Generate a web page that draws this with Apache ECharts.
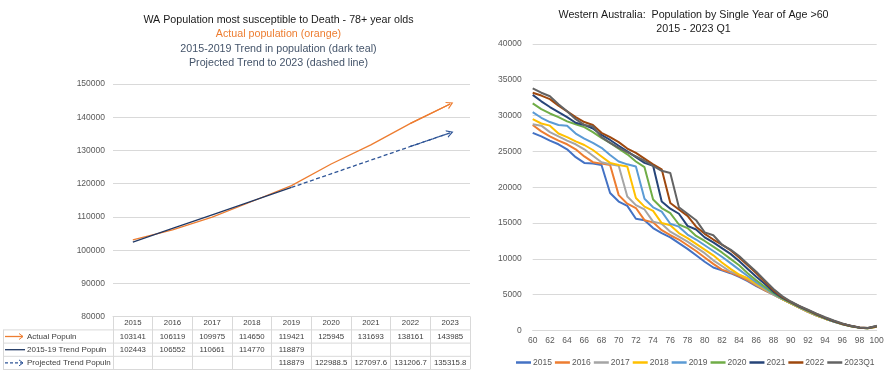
<!DOCTYPE html>
<html><head><meta charset="utf-8">
<script src="https://cdn.jsdelivr.net/npm/echarts@6/dist/echarts.min.js"></script>
<style>html,body{margin:0;padding:0;background:#fff}#c{width:895px;height:382px}</style>
</head><body><div id="c"></div>
<script>
// ---------- LEFT CHART DATA ----------
const years = ['2015','2016','2017','2018','2019','2020','2021','2022','2023'];
const actualPopuln = [103141,106119,109975,114650,119421,125945,131693,138161,143985];
const trendPopuln = [102443,106552,110661,114770,118879,null,null,null,null];
const projectedPopuln = [null,null,null,null,118879,122988.5,127097.6,131206.7,135315.8];
const leftRowNames = ['Actual Populn','2015-19 Trend Populn','Projected Trend Populn'];

// ---------- RIGHT CHART DATA ----------
const ages = ['60','61','62','63','64','65','66','67','68','69','70','71','72','73','74','75','76','77','78','79','80','81','82','83','84','85','86','87','88','89','90','91','92','93','94','95','96','97','98','99','100'];
const seriesNames = ['2015','2016','2017','2018','2019','2020','2021','2022','2023Q1'];
const s2015 = [27600,27100,26500,26000,25300,24200,23400,23300,23100,19200,18000,17400,15600,15400,14300,13600,13000,12200,11400,10500,9600,8800,8400,8000,7500,6900,6200,5600,5000,4400,3800,3200,2600,2100,1650,1250,900,620,400,330,540];
const s2016 = [28700,27800,27100,26500,26000,25300,24300,23500,23300,23100,18900,17700,17100,15400,15100,14000,13300,12700,11900,11100,10200,9300,8500,8100,7600,7000,6300,5600,5000,4400,3800,3200,2600,2100,1650,1250,900,620,400,330,520];
const s2017 = [28800,28600,27700,27100,26500,26000,25300,24400,23500,23200,23000,18700,17500,16900,15200,14900,13800,13100,12400,11600,10800,9800,9000,8200,7800,7200,6400,5700,5000,4400,3800,3200,2650,2100,1650,1250,900,620,400,320,510];
const s2018 = [29500,28900,28600,27500,27000,26400,25900,25200,24300,23400,23100,22900,18500,17300,16700,15000,14700,13600,12900,12100,11300,10500,9500,8600,7800,7300,6500,5800,5100,4400,3800,3200,2650,2100,1650,1250,880,600,390,320,520];
const s2019 = [30500,29700,29100,28700,28600,27500,26800,26200,25500,24500,23600,23200,22900,18400,17200,16600,14900,14500,13400,12700,11900,11100,10300,9400,8500,7600,6700,5900,5100,4450,3850,3250,2700,2150,1700,1250,880,600,390,330,540];
const s2020 = [31700,30900,30300,29800,29200,28800,28400,27700,26900,26200,25400,24600,23600,22800,18300,17100,16400,14800,14300,13200,12500,11700,10900,10000,9100,8000,7000,6100,5200,4500,3900,3300,2750,2200,1700,1280,900,600,400,330,560];
const s2021 = [32900,32000,31200,30500,29800,29000,28700,28200,27300,26600,25800,25000,24200,23400,23000,18000,17000,16300,14600,14100,13000,12300,11500,10700,9700,8600,7500,6500,5400,4600,3950,3350,2800,2250,1750,1300,920,620,400,340,580];
const s2022 = [33200,32800,32300,31400,30600,29800,29100,28700,27600,27000,26300,25400,24800,24000,23200,22500,17800,16900,16000,14500,13500,12700,12000,11200,10200,9100,8000,6800,5600,4700,4000,3400,2850,2300,1800,1350,950,640,420,350,600];
const s2023Q1 = [33800,33200,32700,31600,30600,29500,28700,28500,27000,26200,25500,24900,24300,23700,23000,22300,22000,17200,16300,15400,13700,13300,12000,11300,10400,9300,8200,7000,5800,4800,4050,3450,2900,2350,1850,1400,1000,650,430,360,660];
const rightSeriesData = [s2015,s2016,s2017,s2018,s2019,s2020,s2021,s2022,s2023Q1];

// ---------- STYLE ----------
const FONT = "'Liberation Sans',Arial,sans-serif";
const rightColors = ['#4472C4','#ED7D31','#A5A5A5','#FFC000','#5B9BD5','#70AD47','#264478','#9E480E','#636363'];
const cActual = '#ED7D31', cTrend = '#203864', cProj = '#2F5597';
const gridColor = '#D9D9D9', labelColor = '#595959';
const LG = {left:113, right:470, top:84, bottom:316.7};
const rowH = 13.2;
const chevronUp = 'path://M0,10 L5,0 L10,10 L8.4,10 L5,3.2 L1.6,10 Z';

function fmt(v){ return v == null ? ' ' : String(v); }

const chart = echarts.init(document.getElementById('c'), null, {renderer:'canvas', width:895, height:382});

const rowY = [LG.bottom + rowH*1.5, LG.bottom + rowH*2.5, LG.bottom + rowH*3.5];
const graphics = [];
function txt(t, x, y, size, color, align){
  graphics.push({type:'text', silent:true, style:{text:t, x:x, y:y, fontSize:size, fontFamily:FONT, fill:color,
    align:align||'center', verticalAlign:'middle', textAlign:align||'center', textVerticalAlign:'middle'}});
}
function ln(x1,y1,x2,y2,color,w,dash){
  graphics.push({type:'line', silent:true, shape:{x1,y1,x2,y2}, style:{stroke:color, lineWidth:w||1, lineDash:dash||null}});
}
function chev(x,y,color){
  graphics.push({type:'polyline', silent:true, shape:{points:[[x-4,y-3],[x,y],[x-4,y+3]]}, style:{stroke:color, lineWidth:1, fill:null}});
}
// titles
txt('WA Population most susceptible to Death - 78+ year olds', 278.5, 20, 10.7, '#1a1a1a');
txt('Actual population (orange)', 278.5, 34.5, 10.7, cActual);
txt('2015-2019 Trend in population (dark teal)', 278.5, 49, 10.7, '#44546A');
txt('Projected Trend to 2023 (dashed line)', 278.5, 62.7, 10.7, '#44546A');
txt('Western Australia:  Population by Single Year of Age >60', 693.5, 15, 10.7, '#1a1a1a');
txt('2015 - 2023 Q1', 693.5, 29, 10.7, '#1a1a1a');
// data table borders
for (let i = 1; i <= 4; i++) ln(3, LG.bottom + rowH*i, LG.right, LG.bottom + rowH*i, gridColor, 1);
ln(3.5, LG.bottom + rowH, 3.5, LG.bottom + rowH*4, gridColor, 1);
// legend keys & row labels
ln(5, rowY[0], 23, rowY[0], cActual, 1.3); chev(23, rowY[0], cActual);
ln(5, rowY[1], 25, rowY[1], cTrend, 1.3);
ln(5, rowY[2], 23, rowY[2], cProj, 1.3, [3,2]); chev(23, rowY[2], cProj);
leftRowNames.forEach((n,i)=>txt(n, 27, rowY[i], 8, '#404040', 'left'));

function arrowMark(arr, color, dashed){
  const n = arr.length;
  return {silent:true, animation:false, symbol:['none', chevronUp], symbolSize:[8,7],
    label:{show:false}, emphasis:{disabled:true},
    lineStyle:{color:color, width:1.3, type: dashed ? [4,2.5] : 'solid'},
    data:[[{coord:[n-2, arr[n-2]]},{coord:[n-1, arr[n-1]]}]]};
}

const option = {
  animation:false,
  textStyle:{fontFamily:FONT},
  graphic: graphics,
  grid:[
    {left:LG.left, right:895-LG.right, top:LG.top, bottom:382-LG.bottom},
    {left:532.7, right:18.3, top:44, bottom:51.5}
  ],
  legend:[{
    data: seriesNames, left:511, top:353, width:384, icon:'rect', itemWidth:15, itemHeight:2.5, itemGap:3,
    textStyle:{fontSize:8.5, color:labelColor, fontFamily:FONT, padding:[0,0,0,-3]}
  }],
  xAxis:[
    {type:'category', gridIndex:0, data:years, boundaryGap:true,
     axisLine:{lineStyle:{color:gridColor}},
     axisTick:{show:true, interval:0, length:rowH*4-0.2, lineStyle:{color:gridColor}},
     axisLabel:{interval:0, margin:0, fontSize:7.8, color:'#404040', lineHeight:rowH, fontFamily:FONT,
       formatter:(v, i)=>[v, fmt(actualPopuln[i]), fmt(trendPopuln[i]), fmt(projectedPopuln[i])].join('\n')}},
    {type:'category', gridIndex:1, data:ages, boundaryGap:false,
     axisLine:{lineStyle:{color:gridColor}}, axisTick:{show:false},
     axisLabel:{interval:1, margin:6, fontSize:8.5, color:labelColor, fontFamily:FONT}}
  ],
  yAxis:[
    {type:'value', gridIndex:0, min:80000, max:150000, interval:10000,
     axisLine:{show:false}, axisTick:{show:false},
     splitLine:{lineStyle:{color:gridColor}},
     axisLabel:{fontSize:8.5, color:labelColor, margin:8, fontFamily:FONT, formatter:v=>String(v)}},
    {type:'value', gridIndex:1, min:0, max:40000, interval:5000,
     axisLine:{show:false}, axisTick:{show:false},
     splitLine:{lineStyle:{color:gridColor}},
     axisLabel:{fontSize:8.5, color:labelColor, margin:11, fontFamily:FONT, formatter:v=>String(v)}}
  ],
  series:[
    {name:leftRowNames[0], type:'line', xAxisIndex:0, yAxisIndex:0, data:actualPopuln, symbol:'none',
     lineStyle:{color:cActual, width:1.3}, itemStyle:{color:cActual}, z:3,
     markLine: arrowMark(actualPopuln, cActual, false)},
    {name:leftRowNames[1], type:'line', xAxisIndex:0, yAxisIndex:0, data:trendPopuln, symbol:'none',
     lineStyle:{color:cTrend, width:1.3}, itemStyle:{color:cTrend}, z:4},
    {name:leftRowNames[2], type:'line', xAxisIndex:0, yAxisIndex:0, data:projectedPopuln, symbol:'none',
     lineStyle:{color:cProj, width:1.3, type:[4,2.5]}, itemStyle:{color:cProj}, z:4,
     markLine: arrowMark(projectedPopuln, cProj, true)}
  ].concat(seriesNames.map((n,i)=>({
     name:n, type:'line', xAxisIndex:1, yAxisIndex:1, data:rightSeriesData[i], symbol:'none',
     lineStyle:{color:rightColors[i], width:2}, itemStyle:{color:rightColors[i]}
  })))
};
chart.setOption(option);
</script>
</body></html>
